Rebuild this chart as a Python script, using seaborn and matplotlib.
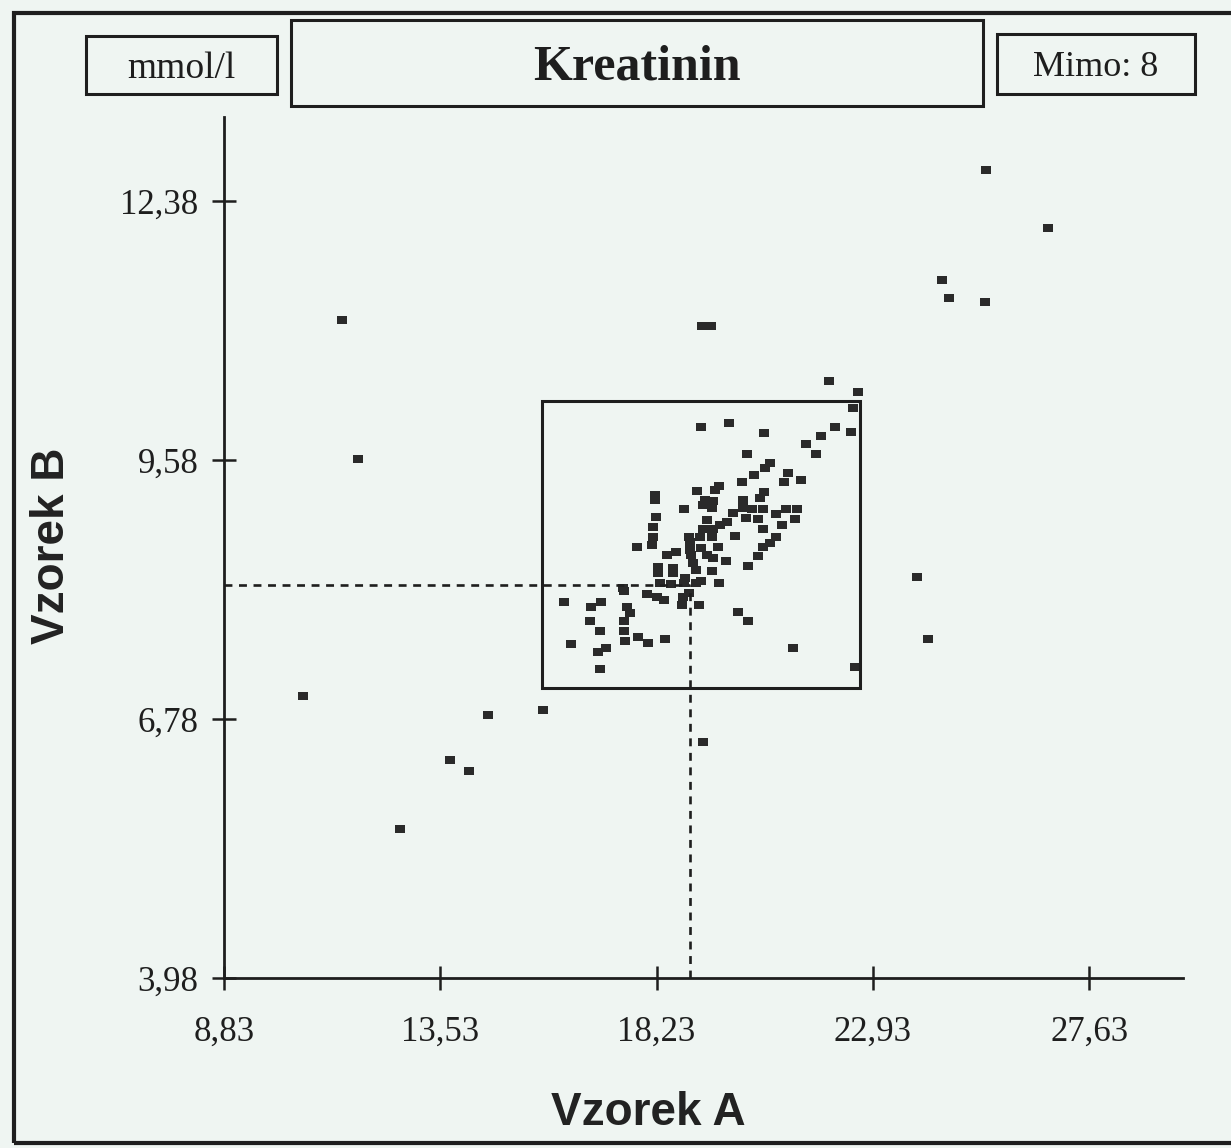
import pandas as pd
import matplotlib
matplotlib.use("Agg")
import matplotlib.pyplot as plt
from matplotlib.patches import Rectangle
import seaborn as sns

# --- data ---
vzorek_a = [25.39, 26.74, 24.43, 24.59, 25.37, 11.40, 19.22, 19.41, 11.74, 21.98, 22.61,
            10.55, 14.57, 15.76, 13.74, 14.16, 12.66, 19.24, 23.89, 24.13, 21.20, 22.54,
            22.50, 19.20, 19.81, 20.57, 22.11, 22.46, 21.81, 21.48, 21.70, 20.20,
            20.70, 20.59, 20.35, 20.09, 21.09, 21.00, 21.37, 19.59, 19.50, 19.11,
            20.57, 20.48, 20.11, 18.20, 18.20, 19.28, 19.46, 19.24, 19.44, 18.83,
            20.11, 20.31, 20.55, 21.04, 21.28, 20.83, 19.89, 20.18, 20.44, 21.24,
            19.33, 18.22, 19.76, 20.96, 19.61, 19.24, 18.15, 20.55, 19.46, 19.94,
            20.83, 18.94, 19.18, 19.44, 18.15, 18.13, 17.81, 18.96, 20.70, 20.55,
            18.96, 19.20, 19.57, 18.46, 18.65, 18.98, 19.33, 20.44, 19.46, 19.74,
            19.02, 20.22, 18.26, 18.59, 19.09, 19.44, 18.26, 18.59, 18.85, 19.20,
            18.31, 18.83, 19.09, 19.59, 18.55, 17.50, 17.52, 18.02, 18.24, 18.39,
            18.81, 18.94, 18.78, 19.15, 16.22, 16.81, 17.02, 17.59, 17.65, 20.00,
            20.22, 16.78, 17.52, 17.00, 17.52, 17.83, 17.55, 18.05, 18.42, 16.37,
            17.13, 16.96, 17.00]
vzorek_b = [12.72, 12.09, 11.53, 11.33, 11.29, 11.09, 11.03, 11.03, 9.59, 10.43, 10.32,
            7.03, 6.82, 6.88, 6.34, 6.22, 5.59, 6.53, 8.32, 7.65, 7.55, 7.34,
            10.14, 9.94, 9.98, 9.87, 9.94, 9.88, 9.84, 9.75, 9.65, 9.65,
            9.55, 9.49, 9.42, 9.34, 9.44, 9.34, 9.37, 9.30, 9.26, 9.25,
            9.23, 9.17, 9.15, 9.20, 9.15, 9.15, 9.14, 9.09, 9.06, 9.05,
            9.06, 9.05, 9.05, 9.05, 9.05, 9.00, 9.01, 8.95, 8.94, 8.94,
            8.93, 8.96, 8.91, 8.88, 8.88, 8.84, 8.86, 8.84, 8.83, 8.76,
            8.75, 8.75, 8.75, 8.75, 8.75, 8.66, 8.64, 8.69, 8.68, 8.64,
            8.61, 8.63, 8.64, 8.55, 8.59, 8.55, 8.55, 8.54, 8.52, 8.49,
            8.47, 8.43, 8.42, 8.41, 8.39, 8.38, 8.36, 8.36, 8.30, 8.27,
            8.25, 8.25, 8.25, 8.25, 8.24, 8.20, 8.17, 8.13, 8.10, 8.07,
            8.10, 8.14, 8.01, 8.01, 8.05, 7.99, 8.05, 7.99, 7.93, 7.94,
            7.84, 7.84, 7.84, 7.73, 7.73, 7.67, 7.62, 7.60, 7.65, 7.59,
            7.55, 7.50, 7.32]

x_ticks = [8.83, 13.53, 18.23, 22.93, 27.63]
y_ticks = [3.98, 6.78, 9.58, 12.38]
x_tick_labels = ["8,83", "13,53", "18,23", "22,93", "27,63"]
y_tick_labels = ["3,98", "6,78", "9,58", "12,38"]

# target rectangle and median crosshair
box_x = [15.74, 22.65]
box_y = [7.12, 10.22]
median_a = 18.96
median_b = 8.23

df = pd.DataFrame({"Vzorek A": vzorek_a, "Vzorek B": vzorek_b})

bg = "#eff5f2"
ink = "#1e1e1e"

sns.set_style("white")
plt.rcParams["font.family"] = ["Liberation Serif", "DejaVu Serif"]

W, H = 1231, 1148
fig = plt.figure(figsize=(W / 100, H / 100), dpi=100, facecolor=bg)
ax = fig.add_axes([224 / W, 1 - 978 / H, 959 / W, 861 / H], facecolor=bg)

rect_marker = [(-0.5, -0.38), (0.5, -0.38), (0.5, 0.38), (-0.5, 0.38), (-0.5, -0.38)]
sns.scatterplot(data=df, x="Vzorek A", y="Vzorek B", ax=ax, marker=rect_marker,
                s=50, color="#2a2a2a", linewidth=0, legend=False)

# target box
ax.add_patch(Rectangle((box_x[0], box_y[0]), box_x[1] - box_x[0], box_y[1] - box_y[0],
                       fill=False, edgecolor=ink, linewidth=2.2, zorder=1))
# dashed crosshair
ax.plot([x_ticks[0], median_a], [median_b, median_b], color=ink, lw=1.9,
        linestyle=(0, (3, 2.5)))
ax.plot([median_a, median_a], [y_ticks[0], median_b], color=ink, lw=1.9,
        linestyle=(0, (3, 2.5)))

ax.set_xlim(8.83, 29.67)
ax.set_ylim(3.98, 13.29)
ax.set_xticks(x_ticks)
ax.set_xticklabels(x_tick_labels)
ax.set_yticks(y_ticks)
ax.set_yticklabels(y_tick_labels)
ax.tick_params(bottom=True, left=True, direction="inout", length=17, width=1.8,
               colors=ink, labelsize=25)
ax.tick_params(axis="x", pad=19)
ax.tick_params(axis="y", pad=10)
for side in ["top", "right"]:
    ax.spines[side].set_visible(False)
for side in ["left", "bottom"]:
    ax.spines[side].set_linewidth(2.0)
    ax.spines[side].set_color(ink)
ax.set_xlabel("")
ax.set_ylabel("")

# axis titles
fig.text(648 / W, 1 - 1113 / H, "Vzorek A", family="Liberation Sans", weight="bold",
         fontsize=33, ha="center", va="center", color="#222222")
fig.text(52 / W, 1 - 546 / H, "Vzorek B", family="Liberation Sans", weight="bold",
         fontsize=33, ha="center", va="center", rotation=90, color="#222222")

# header boxes
def header_box(x0, y0, x1, y1, text, size, weight="normal"):
    fig.patches.append(Rectangle((x0 / W, 1 - y1 / H), (x1 - x0) / W, (y1 - y0) / H,
                                 transform=fig.transFigure, fill=False,
                                 edgecolor=ink, linewidth=2.2))
    fig.text((x0 + x1) / 2 / W, 1 - ((y0 + y1) / 2 + 4) / H, text, fontsize=size,
             weight=weight, ha="center", va="center", color=ink)

header_box(86, 36, 277, 94, "mmol/l", 27)
header_box(291, 20, 983, 106, "Kreatinin", 36, "bold")
header_box(997, 34, 1195, 94, "Mimo: 8", 26)

# outer frame of the scanned sheet
fig.patches.append(Rectangle((14 / W, 1 - 1143 / H), 1230 / W, 1130 / H,
                             transform=fig.transFigure, fill=False,
                             edgecolor=ink, linewidth=3))

fig.savefig("out.png", dpi=100, facecolor=bg)
